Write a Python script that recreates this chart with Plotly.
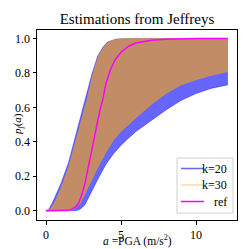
import plotly.graph_objects as go

# k=20 band (upper / lower bounds)
k20_up_x = [0, 0.2, 0.5, 1.0, 1.5, 1.9, 2.25, 2.65, 3.05, 3.45, 3.8, 4.1, 4.7, 5.5, 12.1]
k20_up_y = [0, 0.01, 0.06, 0.16, 0.28, 0.41, 0.53, 0.65, 0.79, 0.90, 0.95, 0.98, 0.997, 1.0, 1.0]
k20_lo_x = [0, 2.0, 2.3, 2.6, 3.0, 3.5, 4.0, 4.5, 5.0, 5.5, 6.0, 7.0, 8.0, 9.0, 10.0, 11.0, 12.1]
k20_lo_y = [0, 0, 0.01, 0.035, 0.10, 0.19, 0.27, 0.33, 0.38, 0.42, 0.46, 0.52, 0.585, 0.64, 0.68, 0.71, 0.73]

# k=30 band
k30_up_x = [0, 0.3, 0.6, 1.0, 1.5, 2.0, 2.35, 2.75, 3.12, 3.5, 3.85, 4.15, 4.8, 5.5, 12.1]
k30_up_y = [0, 0.01, 0.05, 0.13, 0.25, 0.40, 0.52, 0.65, 0.79, 0.90, 0.95, 0.98, 0.997, 1.0, 1.0]
k30_lo_x = [0, 1.6, 1.9, 2.3, 2.6, 3.0, 3.5, 4.0, 4.5, 5.0, 5.5, 6.0, 7.0, 8.0, 9.0, 10.0, 11.0, 12.1]
k30_lo_y = [0, 0, 0.012, 0.045, 0.10, 0.17, 0.26, 0.34, 0.41, 0.46, 0.50, 0.54, 0.615, 0.68, 0.73, 0.76, 0.785, 0.807]

# reference curve
ref_x = [0, 1.0, 1.5, 1.8, 2.0, 2.2, 2.4, 2.6, 2.8, 3.0, 3.2, 3.4, 3.6, 3.8, 4.0, 4.3, 4.6, 5.0, 5.5, 6.0, 7.0, 8.0, 9.0, 10.0, 12.1]
ref_y = [0, 0, 0.002, 0.012, 0.025, 0.05, 0.095, 0.16, 0.245, 0.34, 0.43, 0.51, 0.585, 0.65, 0.74, 0.82, 0.875, 0.92, 0.955, 0.973, 0.99, 0.996, 0.999, 1.0, 1.0]

labels = ["k=20", "k=30", "ref"]
x_ticks = [0, 5, 10]
y_ticks = [0.0, 0.2, 0.4, 0.6, 0.8, 1.0]

FONT = "Liberation Serif"
BLUE_FILL = "rgba(0,0,255,0.6)"
ORANGE_FILL = "rgba(255,165,0,0.6)"
MAGENTA = "#ff00ff"

fig = go.Figure()
fig.add_trace(go.Scatter(
    x=k20_up_x + k20_lo_x[::-1], y=k20_up_y + k20_lo_y[::-1],
    fill="toself", fillcolor=BLUE_FILL, mode="lines",
    line=dict(color=BLUE_FILL, width=0.6), name=labels[0], showlegend=False))
fig.add_trace(go.Scatter(
    x=k30_up_x + k30_lo_x[::-1], y=k30_up_y + k30_lo_y[::-1],
    fill="toself", fillcolor=ORANGE_FILL, mode="lines",
    line=dict(color=ORANGE_FILL, width=0.6), name=labels[1], showlegend=False))
fig.add_trace(go.Scatter(
    x=ref_x, y=ref_y, mode="lines", line=dict(color=MAGENTA, width=1.5),
    name=labels[2], showlegend=False))

# page coordinates of the plot area; the page body adds an 8px offset
OFF = 8
PAGE = 249
W = PAGE - OFF
L, R, T, B = 37, 237, 30, 220
def px(xp):
    return (xp - L) / (R - L)
def py(yp):
    return (B - yp) / (B - T)

shapes = [dict(type="rect", xref="paper", yref="paper",
               x0=px(177), x1=px(233), y0=py(213), y1=py(158),
               line=dict(color="#d0d0d0", width=1), fillcolor="rgba(255,255,255,0.8)")]
leg_cols = ["rgba(0,0,255,0.6)", "rgba(255,165,0,0.4)", MAGENTA]
leg_y = [168.5, 185, 201.5]
annotations = []
for lab, c, yy in zip(labels, leg_cols, leg_y):
    shapes.append(dict(type="line", xref="paper", yref="paper",
                       x0=px(181), x1=px(204), y0=py(yy), y1=py(yy),
                       line=dict(color=c, width=1.5)))
    annotations.append(dict(xref="paper", yref="paper", x=px(229), y=py(yy),
                            text=lab, showarrow=False, xanchor="right", yanchor="middle",
                            font=dict(family=FONT, size=12, color="black")))

# axis titles
annotations.append(dict(xref="paper", yref="paper", x=px(137), y=py(241),
                        text="<i>a</i> =PGA (m/s<sup>2</sup>)", showarrow=False,
                        xanchor="center", yanchor="middle",
                        font=dict(family=FONT, size=11.5, color="black")))
annotations.append(dict(xref="paper", yref="paper", x=px(OFF + 1), y=py(124),
                        text="<i>p</i><sub><i>f</i></sub>(<i>a</i>)", showarrow=False,
                        textangle=-90, xanchor="left", yanchor="middle",
                        font=dict(family=FONT, size=11, color="black")))

fig.update_layout(
    width=W, height=W,
    margin=dict(l=L - OFF, r=PAGE - R, t=T - OFF, b=PAGE - B, pad=0),
    paper_bgcolor="white", plot_bgcolor="white",
    title=dict(text="Estimations from Jeffreys", x=((L + R) / 2 - OFF) / W, xanchor="center",
               y=1 - (19 - OFF) / W, yanchor="middle",
               font=dict(family=FONT, size=15, color="black")),
    font=dict(family=FONT, size=12, color="black"),
    shapes=shapes, annotations=annotations,
    xaxis=dict(range=[-0.6, 12.73], tickvals=x_ticks, ticktext=[str(v) for v in x_ticks],
               automargin=False,
               showgrid=False, zeroline=False, showline=True, mirror=True,
               linecolor="black", linewidth=1, ticks="outside", ticklen=3.5,
               tickcolor="black", tickfont=dict(family=FONT, size=12)),
    yaxis=dict(range=[-0.054, 1.049], tickvals=y_ticks, ticktext=["%.1f" % v for v in y_ticks],
               automargin=False,
               showgrid=False, zeroline=False, showline=True, mirror=True,
               linecolor="black", linewidth=1, ticks="outside", ticklen=3.5,
               tickcolor="black", tickfont=dict(family=FONT, size=12)),
)

fig.write_html("out.html")
